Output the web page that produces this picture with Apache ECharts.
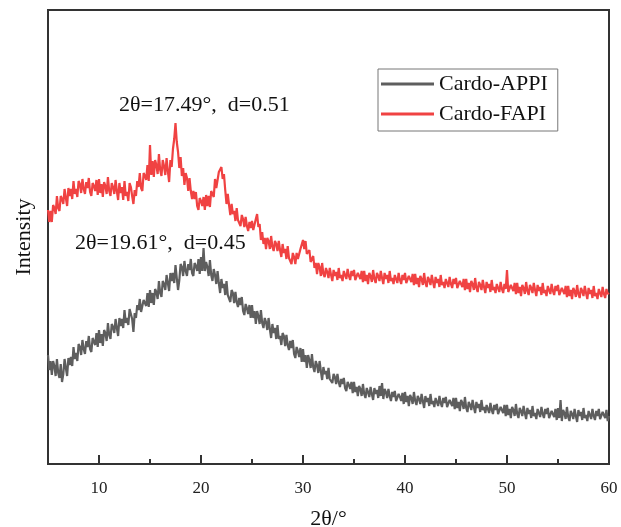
<!DOCTYPE html>
<html>
<head>
<meta charset="utf-8">
<script src="https://cdn.jsdelivr.net/npm/echarts@6/dist/echarts.min.js"></script>
<style>
html,body{margin:0;padding:0;background:#fff;}
#chart{width:621px;height:527px;}
</style>
</head>
<body>
<div id="chart"></div>
<script>
// 2θ sampling grid (degrees)
const angleStart = 5;
const angleStep = 0.125;

// Intensity (a.u.), one value every 0.125°, 8 values per degree
const fapiIntensity = [
254,242,253,242,259,256,250,268, 256,253,268,265,260,275,266,258,
276,268,275,265,283,270,275,267, 283,280,271,285,275,270,282,276,
286,272,268,281,278,273,284,269, 285,271,280,267,282,278,270,287,
273,268,281,277,270,284,273,264, 281,271,277,264,283,268,272,263,
281,277,268,260,274,268,283,277, 291,276,273,291,288,284,299,283,
319,289,303,287,304,299,290,310, 294,288,304,298,289,306,293,282,
304,297,315,325,341,322,312,296, 307,288,296,279,291,286,273,286,
273,265,273,265,272,258,254,266, 263,258,267,254,269,258,268,257,
273,271,267,285,276,276,292,294, 297,285,290,274,260,270,259,249,
260,250,253,243,256,244,246,238, 249,245,237,247,238,233,242,236,
243,234,233,245,250,237,240,224, 232,220,226,215,226,223,215,228,
217,213,223,220,213,223,214,207, 220,211,215,205,218,206,208,200,
211,207,200,211,205,203,215,213, 224,215,223,210,209,214,202,203,
208,196,201,190,201,197,188,201, 190,187,196,192,186,196,189,183,
194,188,192,184,196,186,189,183, 193,191,185,195,188,184,193,188,
194,184,182,191,189,185,193,182, 193,183,189,180,191,188,182,194,
185,181,191,188,183,193,186,180, 191,185,189,181,193,183,186,180,
189,187,181,191,184,180,189,184, 191,181,179,188,186,182,190,179,
190,180,186,177,188,185,179,191, 181,177,187,184,179,189,182,176,
187,181,185,177,189,179,182,176, 185,183,177,187,180,176,185,180,
186,176,174,183,181,177,185,174, 185,175,181,172,183,180,174,186,
176,172,182,179,174,184,177,171, 182,176,180,172,184,174,177,171,
180,178,172,182,175,171,180,175, 194,172,170,179,177,173,181,170,
181,171,177,168,179,176,170,182, 173,169,179,176,171,181,174,168,
179,173,177,169,181,171,174,168, 178,176,170,180,173,169,178,173,
179,169,167,176,174,170,178,167, 178,168,174,165,176,173,167,179,
170,166,176,173,168,178,171,165, 176,170,174,166,178,168,171,165,
175,173,167,177,170,166,175,170, 171
];
const appiIntensity = [
109,94,103,89,103,98,88,105, 91,86,100,82,90,105,96,88,
106,99,107,98,117,105,111,103, 120,117,109,124,115,110,123,117,
128,115,112,126,124,119,131,117, 134,121,130,118,134,131,123,141,
129,125,140,137,131,145,136,128, 146,138,145,136,154,141,146,139,
155,153,145,132,151,146,159,154, 165,152,150,164,162,158,171,157,
174,161,171,159,175,172,165,183, 171,167,183,180,174,189,181,173,
191,183,191,181,199,186,174,184, 200,197,188,203,193,188,200,194,
205,191,188,201,198,193,205,190, 207,193,216,193,202,197,188,204,
189,183,195,189,180,193,181,171, 185,176,180,169,183,169,171,162,
174,171,161,172,162,157,166,159, 167,153,149,160,156,150,159,146,
159,146,153,140,153,148,140,154, 141,136,146,142,134,146,135,126,
140,131,136,125,139,125,128,119, 131,128,118,129,119,114,123,116,
124,110,106,117,113,107,116,102, 115,102,109,96,109,104,96,110,
97,92,103,99,91,103,93,84, 97,90,93,85,96,85,87,81,
90,87,80,90,82,77,85,80, 86,76,73,82,79,75,82,71,
82,72,77,68,78,75,68,80, 70,66,76,72,67,77,70,64,
76,70,74,66,78,68,81,65, 75,72,66,75,68,63,72,67,
73,63,61,70,67,63,71,60, 72,62,68,58,69,66,60,72,
63,59,68,65,60,70,63,56, 68,62,66,58,70,60,63,57,
66,64,58,68,61,57,66,61, 67,57,55,64,62,58,66,55,
66,56,62,53,64,61,55,67, 56,52,62,59,54,64,57,51,
62,56,60,52,64,54,57,51, 59,57,51,61,54,50,59,54,
60,50,48,57,55,51,59,48, 59,49,55,46,57,54,48,60,
50,46,56,53,48,58,51,45, 56,50,54,46,58,48,51,45,
55,53,47,57,50,46,55,50, 56,46,44,53,51,47,55,44,
56,46,64,43,54,51,45,57, 47,43,53,50,45,55,48,42,
54,48,52,44,56,46,49,43, 53,51,45,55,48,44,53,48,
55,45,43,52,50,46,54,43, 48
];

const seriesNames = ['Cardo-APPI', 'Cardo-FAPI'];
const seriesColors = ['#5e5e5e', '#f04242'];
const majorTicks = [10, 20, 30, 40, 50, 60];
const minorTicks = [15, 25, 35, 45, 55];
const annotations = ['2θ=17.49°,  d=0.51', '2θ=19.61°,  d=0.45'];

function toPairs(arr) {
  return arr.map((v, i) => [angleStart + i * angleStep, v]);
}

const FONT = '"Liberation Serif", "Times New Roman", serif';
const chart = echarts.init(document.getElementById('chart'));
chart.setOption({
  animation: false,
  backgroundColor: '#fff',
  grid: { left: 48, right: 12, top: 10, bottom: 63, outerBoundsMode: 'none', containLabel: false, show: true, borderColor: '#333', borderWidth: 2, backgroundColor: 'transparent' },
  legend: {
    orient: 'vertical',
    left: 378, top: 69,
    data: seriesNames,
    icon: 'rect',
    itemWidth: 53, itemHeight: 3, itemGap: 8,
    padding: [4, 10, 6, 3],
    borderColor: '#777', borderWidth: 1,
    textStyle: { fontFamily: FONT, fontSize: 22, color: '#111', lineHeight: 22 }
  },
  xAxis: [{
    type: 'value', min: 5, max: 60,
    name: '2θ/°', nameLocation: 'middle', nameGap: 44,
    nameTextStyle: { fontFamily: FONT, fontSize: 22, color: '#111' },
    axisLine: { show: true, lineStyle: { color: '#333', width: 2 } },
    axisTick: { show: true, inside: true, length: 9, customValues: majorTicks, lineStyle: { color: '#333', width: 2 } },
    axisLabel: { customValues: majorTicks, fontFamily: FONT, fontSize: 17, color: '#222', margin: 16 },
    splitLine: { show: false }
  }, {
    type: 'value', min: 5, max: 60, position: 'bottom',
    axisLine: { show: false },
    axisTick: { show: true, inside: true, length: 5, customValues: minorTicks, lineStyle: { color: '#333', width: 2 } },
    axisLabel: { show: false },
    splitLine: { show: false }
  }],
  yAxis: {
    type: 'value', min: 0, max: 454,
    name: 'Intensity', nameLocation: 'middle', nameGap: 13,
    nameTextStyle: { fontFamily: FONT, fontSize: 22, color: '#111' },
    axisLine: { show: true, lineStyle: { color: '#333', width: 2 } },
    axisTick: { show: false },
    axisLabel: { show: false },
    splitLine: { show: false }
  },
  series: [
    { name: seriesNames[0], type: 'line', data: toPairs(appiIntensity), symbol: 'none', color: seriesColors[0], lineStyle: { width: 2.2, color: seriesColors[0] } },
    { name: seriesNames[1], type: 'line', data: toPairs(fapiIntensity), symbol: 'none', color: seriesColors[1], lineStyle: { width: 2.2, color: seriesColors[1] } }
  ],
  graphic: [
    { type: 'text', left: 119, top: 94, style: { text: annotations[0], fontFamily: FONT, fontSize: 22, fill: '#111' } },
    { type: 'text', left: 75, top: 232, style: { text: annotations[1], fontFamily: FONT, fontSize: 22, fill: '#111' } }
  ]
});
</script>
</body>
</html>
